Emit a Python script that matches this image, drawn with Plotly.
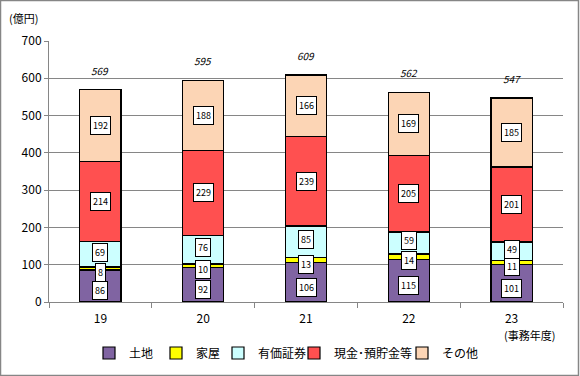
import plotly.graph_objects as go

years = ["19", "20", "21", "22", "23"]
land = [86, 92, 106, 115, 101]
house = [8, 10, 13, 14, 11]
securities = [69, 76, 85, 59, 49]
cash = [214, 229, 239, 205, 201]
other = [192, 188, 166, 169, 185]
totals = [569, 595, 609, 562, 547]

series_names = ["土地", "家屋", "有価証券", "現金･預貯金等", "その他"]
series_values = [land, house, securities, cash, other]
series_colors = ["#8064A2", "#FFFF00", "#CCFFFF", "#FF5050", "#FCD5B5"]
label_shift = [-5, -4, 2, 0, 0]          # small vertical nudges for label boxes (px)
legend_marker_px = [109, 176, 238, 314, 422]  # legend marker centres (px)

FONT = "Noto Sans CJK JP, Noto Sans, sans-serif"

W, H = 580, 376
L, R, T, B = 49, 17, 41, 74
pw, ph = W - L - R, H - T - B

fig = go.Figure()
legend_layouts = {}
for k, (name, vals, col) in enumerate(zip(series_names, series_values, series_colors)):
    lg = "legend" if k == 0 else f"legend{k + 1}"
    fig.add_trace(go.Bar(
        x=years, y=vals, name=name, legend=lg,
        marker=dict(color=col, line=dict(color="black", width=1.2)),
    ))
    legend_layouts[lg] = dict(
        orientation="h", x=(legend_marker_px[k] - 20 - L) / pw, xanchor="left",
        y=(T + ph - 353) / ph, yanchor="middle", bgcolor="rgba(0,0,0,0)",
        font=dict(size=12, family=FONT, color="black"), itemwidth=30,
    )

annotations = []
base = [0] * len(years)
for k, vals in enumerate(series_values):
    for i, v in enumerate(vals):
        annotations.append(dict(
            x=i, y=base[i] + v / 2, text=str(v), showarrow=False, yshift=label_shift[k],
            font=dict(size=9, color="black", family=FONT),
            bgcolor="white", bordercolor="black", borderwidth=1, borderpad=2,
        ))
        base[i] += v
for i, t in enumerate(totals):
    annotations.append(dict(
        x=i, y=t, text=f"<i>{t}</i>", showarrow=False, yanchor="bottom", yshift=10,
        font=dict(size=10, color="black", family=FONT),
    ))

annotations.append(dict(xref="paper", yref="paper", x=(23 - L) / pw, y=(T + ph - 18) / ph,
                        xanchor="center", yanchor="middle",
                        text="(億円)", showarrow=False, font=dict(size=11, color="black", family=FONT)))
annotations.append(dict(xref="paper", yref="paper", x=(529 - L) / pw, y=(T + ph - 335) / ph,
                        xanchor="center", yanchor="middle",
                        text="(事務年度)", showarrow=False, font=dict(size=11, color="black", family=FONT)))

fig.update_layout(
    width=W, height=H, barmode="stack", bargap=0.6,
    margin=dict(l=L, r=R, t=T, b=B, autoexpand=False),
    paper_bgcolor="white", plot_bgcolor="white",
    font=dict(family=FONT, color="black"),
    annotations=annotations,
    showlegend=True,
    xaxis=dict(type="category", showline=True, linecolor="#868686", ticks="outside", tickcolor="#868686",
               ticklen=5, tickson="boundaries", tickfont=dict(size=12), showgrid=False,
               tickangle=0, ticklabelstandoff=6),
    yaxis=dict(range=[0, 700], dtick=100, showline=True, linecolor="#868686", ticks="outside",
               tickcolor="#868686", ticklen=4, gridcolor="#868686", gridwidth=1,
               tickfont=dict(size=12), zeroline=False),
    shapes=[dict(type="rect", xref="paper", yref="paper",
                 x0=(0.5 - L) / pw, x1=(578.5 - L) / pw,
                 y0=(T + ph - 375.5) / ph, y1=(T + ph - 0.5) / ph,
                 line=dict(color="#868686", width=1.5), fillcolor="rgba(0,0,0,0)")],
    **legend_layouts,
)

fig.write_html("out.html", config={"displayModeBar": False},
               post_script="document.body.style.margin='0';document.body.style.padding='0';")
